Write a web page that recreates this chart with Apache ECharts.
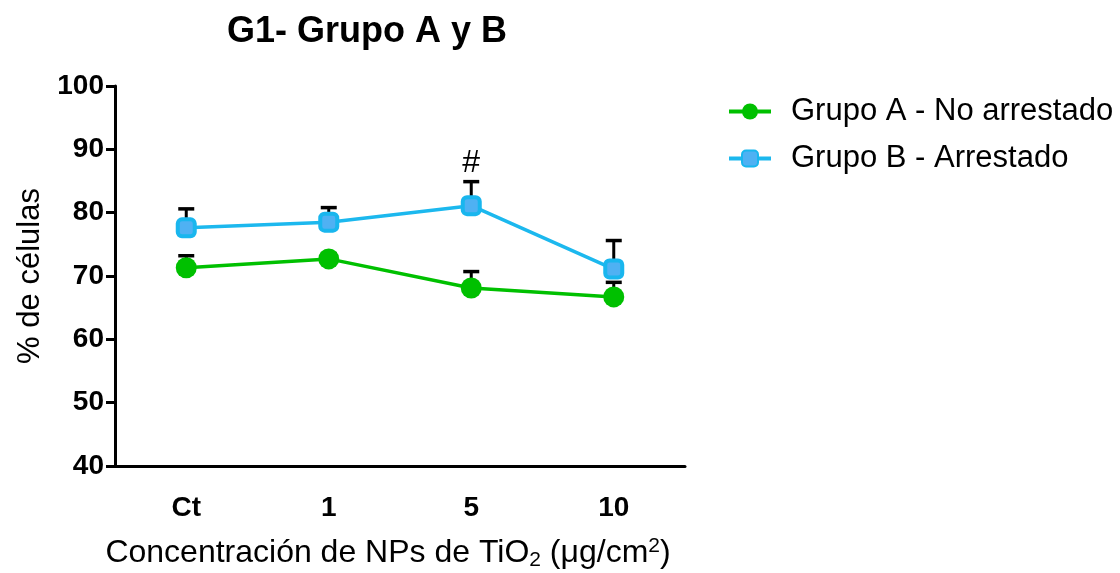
<!DOCTYPE html>
<html>
<head>
<meta charset="utf-8">
<script src="https://cdn.jsdelivr.net/npm/echarts@6/dist/echarts.min.js"></script>
<style>html,body{margin:0;padding:0;background:#fff}#c{width:1120px;height:573px}</style>
</head>
<body>
<div id="c"></div>
<script>
const categories = ['Ct', '1', '5', '10'];
const groupA = [71.3, 72.7, 68.1, 66.7];
const groupAErr = [1.9, 0.8, 2.6, 2.3];
const groupB = [77.6, 78.5, 81.1, 71.1];
const groupBErr = [3.0, 2.3, 3.8, 4.5];
const annotations = ['', '', '#', ''];
const yTicks = [40, 50, 60, 70, 80, 90, 100];

const FONT = '"Liberation Sans", Arial, sans-serif';
const chart = echarts.init(document.getElementById('c'));

function errData(means, errs, ann) {
  return means.map((m, i) => [i, m, errs[i], ann ? ann[i] : '']);
}
function renderErr(params, api) {
  const x = api.value(0), m = api.value(1), e = api.value(2);
  const p0 = api.coord([x, m]);
  const p1 = api.coord([x, m + e]);
  const children = [
    {type: 'line', shape: {x1: p0[0], y1: p0[1], x2: p1[0], y2: p1[1]}, style: {stroke: '#000', lineWidth: 3}},
    {type: 'line', shape: {x1: p1[0] - 8, y1: p1[1], x2: p1[0] + 8, y2: p1[1]}, style: {stroke: '#000', lineWidth: 3.5}}
  ];
  const t = api.value(3);
  if (t) {
    children.push({type: 'text', x: p1[0], y: p1[1] - 18, style: {text: t, fontSize: 32, fontFamily: FONT, fill: '#000', align: 'center', verticalAlign: 'middle'}});
  }
  return {type: 'group', children};
}

chart.setOption({
  animation: false,
  backgroundColor: '#fff',
  title: {
    text: 'G1- Grupo A y B', left: 222, top: 9,
    textStyle: {fontSize: 36, fontWeight: 'bold', fontFamily: FONT, color: '#000'}
  },
  legend: {
    orient: 'vertical', left: 722, top: 91,
    itemWidth: 42, itemHeight: 20, itemGap: 16,
    lineStyle: {width: 4},
    textStyle: {fontSize: 31, fontFamily: FONT, color: '#000', padding: [0, 0, 0, 15]},
    data: ['Grupo A - No arrestado', 'Grupo B - Arrestado']
  },
  grid: {left: 115, right: 435, top: 86, bottom: 107, outerBoundsMode: 'none', containLabel: false},
  xAxis: {
    type: 'category', data: categories, boundaryGap: true,
    axisLine: {lineStyle: {color: '#000', width: 3}},
    axisTick: {alignWithLabel: true, length: 10, lineStyle: {color: '#000', width: 3}},
    axisLabel: {fontSize: 28, fontWeight: 'bold', fontFamily: FONT, color: '#000', margin: 28},
    name: '{a|Concentración de NPs de TiO}{sub|2}{a| (μg/cm}{sup|2}{a|)}',
    nameLocation: 'middle', nameGap: 70,
    nameTextStyle: {
      padding: [0, 24, 0, 0],
      rich: {
        a: {fontSize: 32, fontFamily: FONT, color: '#000'},
        sub: {fontSize: 21, fontFamily: FONT, color: '#000', verticalAlign: 'bottom', padding: [14, 0, 0, 0]},
        sup: {fontSize: 21, fontFamily: FONT, color: '#000', verticalAlign: 'top', padding: [0, 0, 14, 0]}
      }
    }
  },
  yAxis: {
    type: 'value', min: yTicks[0], max: yTicks[yTicks.length - 1], interval: 10,
    splitLine: {show: false},
    axisLine: {show: true, lineStyle: {color: '#000', width: 3}},
    axisTick: {show: true, length: 9, lineStyle: {color: '#000', width: 3}},
    axisLabel: {fontSize: 28, fontWeight: 'bold', fontFamily: FONT, color: '#000', margin: 11},
    name: '% de células', nameLocation: 'middle', nameGap: 69,
    nameTextStyle: {fontSize: 31, fontFamily: FONT, color: '#000'}
  },
  series: [
    {type: 'custom', name: 'errA', renderItem: renderErr, data: errData(groupA, groupAErr), z: 1, silent: true, encode: {x: 0, y: 1}},
    {type: 'custom', name: 'errB', renderItem: renderErr, data: errData(groupB, groupBErr, annotations), z: 1, silent: true, encode: {x: 0, y: 1}},
    {
      type: 'line', name: 'Grupo A - No arrestado', data: groupA, z: 3,
      symbol: 'circle', symbolSize: 21,
      lineStyle: {color: '#00c000', width: 3.5},
      itemStyle: {color: '#00c000'}
    },
    {
      type: 'line', name: 'Grupo B - Arrestado', data: groupB, z: 4,
      symbol: 'roundRect', symbolSize: 17,
      lineStyle: {color: '#1cb8ee', width: 3.5},
      itemStyle: {color: '#4fb1f3', borderColor: '#19b6ee', borderWidth: 4}
    }
  ]
});
</script>
</body>
</html>
